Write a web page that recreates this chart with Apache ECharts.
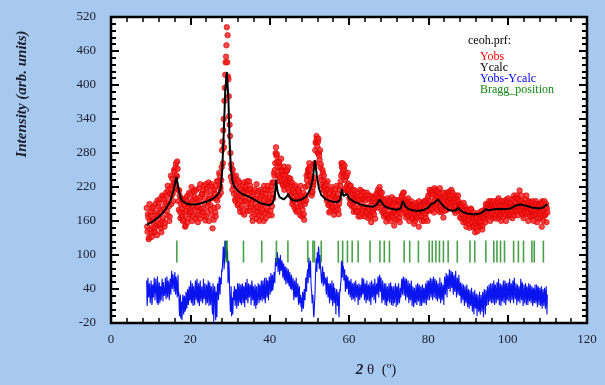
<!DOCTYPE html>
<html>
<head>
<meta charset="utf-8">
<script src="https://cdn.jsdelivr.net/npm/echarts@6/dist/echarts.min.js"></script>
<style>
html,body{margin:0;padding:0;background:#a7c8ef;}
#chart{width:605px;height:385px;}
</style>
</head>
<body>
<div id="chart"></div>
<script>
// ---- data ----
// observed points every 0.1 deg from 9.0; "even" = 9.0, 9.2, ... ; "odd" = 9.1, 9.3, ...
const obsStart = 9.0;
const obsStep = 0.1;
const yObsEven = [
183,141,166,131,160, 170,139,182,150,163, 148,190,171,135,158, 185,152,199,147,176,
160,203,181,156,192, 205,170,214,186,168, 218,190,235,209,228, 247,218,262,240,252,
195,214,176,190,168, 170,198,162,187,152, 178,204,165,190,171, 207,176,195,168,214,
212,180,199,171,193, 186,218,164,203,177, 207,175,222,190,161, 168,211,186,228,199,
205,180,220,147,213, 183,208,168,222,196, 230,205,240,218,232, 285,262,340,372,418,
450,502,488,410,345, 310,238,252,215,241, 208,236,195,225,201, 232,190,218,176,205,
186,224,199,171,212, 220,183,209,192,230, 178,216,190,168,205, 211,172,199,183,164,
185,213,160,201,176, 205,168,190,222,174, 165,200,182,214,191, 203,178,221,186,207,
228,240,262,290,278, 255,240,265,236,248, 230,248,222,256,235, 240,226,250,218,236,
212,235,207,228,196, 210,185,223,198,176, 204,178,212,190,222, 186,168,201,172,195,
220,196,232,245,252, 262,250,228,205,212, 225,236,262,298,310, 292,300,280,268,255,
238,224,245,215,230, 221,205,196,230,188, 175,210,192,220,183, 205,171,198,216,180,
186,208,172,198,222, 240,255,262,248,250, 232,218,240,212,226, 215,190,222,204,185,
208,176,214,195,200, 176,204,168,198,215, 205,180,199,172,210, 168,196,176,205,184,
199,170,187,158,203, 176,200,182,164,193, 205,184,210,195,213, 208,179,200,186,168,
173,196,159,188,170, 195,165,190,171,202, 168,188,152,176,193, 185,162,197,174,158,
196,173,203,188,210, 180,198,166,192,175, 194,160,183,172,188, 165,187,155,180,170,
192,168,179,150,185, 170,188,160,176,193, 175,196,165,183,160, 205,178,210,188,214,
180,206,175,196,215, 190,213,180,203,176, 208,185,176,198,166, 195,178,203,188,206,
210,190,201,185,215, 193,205,180,200,174, 186,200,178,195,183, 166,190,172,185,158,
181,162,170,150,178, 160,175,148,168,180, 158,172,150,165,140, 155,167,142,160,175,
162,150,171,145,168, 165,180,158,185,172, 190,170,185,160,195, 173,192,165,186,170,
188,164,196,175,182, 170,193,160,185,176, 195,172,186,160,190, 178,200,168,185,172,
190,165,186,205,176, 195,178,200,170,192, 214,180,196,172,188, 165,190,176,198,172,
184,160,193,170,180, 192,168,186,160,178, 170,190,158,181,176, 187,165,180,150,192,
160,178,170,185,158, 175
];
const yObsOdd = [
150,172,128,190,145, 176,132,160,185,141, 140,175,152,196,168, 192,155,180,140,205,
165,198,150,188,210, 178,222,195,160,208, 240,205,222,195,250, 226,255,238,265,215,
180,205,165,200,182, 160,190,175,150,200, 195,158,185,210,176, 180,220,160,198,185,
203,165,215,184,158, 170,196,225,180,208, 182,215,168,200,225, 215,176,195,160,222,
188,225,170,200,162, 215,175,200,230,185, 205,245,222,210,255, 300,320,290,395,440,
470,440,415,380,330, 280,260,230,250,222, 230,198,240,210,188, 205,228,182,215,196,
210,175,228,195,218, 195,230,178,215,200, 222,185,210,160,198, 180,215,192,225,175,
205,170,195,215,185, 180,210,160,198,215, 208,178,222,195,170, 192,215,170,228,200,
245,250,280,275,265, 240,262,230,255,270, 250,225,240,215,245, 222,248,232,255,225,
230,205,222,190,215, 195,220,180,210,200, 185,215,195,170,205, 200,180,210,162,190,
205,240,222,250,240, 255,240,230,210,220, 230,260,285,300,305, 280,305,275,285,260,
232,250,220,240,215, 210,225,200,215,190, 200,178,215,190,205, 185,210,178,200,222,
200,180,190,215,230, 262,245,255,238,258, 215,238,222,245,210, 200,222,195,212,188,
215,185,205,178,200, 195,178,210,185,168, 190,212,178,200,185, 200,175,210,182,165,
180,205,168,195,175, 195,172,200,185,208, 188,215,200,220,192, 192,210,175,198,180,
190,170,185,200,165, 178,198,160,185,172, 190,175,198,162,180, 172,195,180,165,190,
185,205,192,210,180, 195,175,188,170,200, 170,190,178,195,165, 185,172,190,160,182,
165,185,172,195,170, 185,168,192,178,160, 190,172,195,178,200, 190,215,195,180,208,
210,190,218,185,200, 205,185,210,195,218, 185,200,180,210,190, 200,185,210,180,195,
195,212,205,190,200, 210,185,195,178,205, 195,178,205,188,190, 180,165,188,170,192,
165,185,158,180,170, 175,155,170,182,160, 165,150,175,160,170, 148,165,158,172,152,
170,158,178,152,165, 175,162,190,170,182, 175,195,180,168,188, 190,178,195,168,182,
170,192,178,200,165, 188,172,195,180,168, 175,190,170,198,182, 195,180,170,192,185,
178,198,185,170,200, 185,205,178,198,182, 195,178,205,185,170, 192,178,185,205,180,
175,195,182,168,190, 180,195,170,188,175, 195,172,185,165,190, 172,190,178,195,168,
180,195,172,190,182
];
const yDiffEven = [
55,20,42,28,48, 30,45,18,40,27, 44,22,38,15,41, 26,48,33,20,45,
35,52,28,44,30, 48,33,55,38,46, 42,60,48,66,52, 58,45,62,40,52,
28,5,22,-12,18, 10,24,2,20,8, 30,15,35,20,28, 40,22,35,18,45,
28,44,30,50,25, 38,20,42,26,35, 45,28,40,22,48, 25,42,30,46,20,
38,15,30,-5,35, 22,40,-15,30,45, 35,50,42,60,48, 70,95,110,85,120,
125,90,105,60,75, 40,10,-8,25,15, 20,38,12,35,25, 42,22,35,15,40,
28,44,20,38,26, 45,30,55,28,40, 22,40,30,48,25, 35,18,40,25,12,
28,45,22,38,30, 45,30,52,36,25, 35,55,42,30,48, 52,40,60,45,38,
55,62,78,95,88, 100,82,90,75,85, 70,85,65,78,60, 70,55,68,50,62,
60,45,58,38,52, 35,48,30,45,25, 40,22,38,15,30, 25,10,30,15,35,
40,55,62,75,80, 82,70,55,35,20, 8,-5,25,75,95, 105,90,110,88,80,
70,58,75,55,62, 50,38,55,42,35, 30,45,28,40,22, 38,25,42,20,35,
28,15,0,22,35, 55,75,88,80,65, 55,42,60,48,52, 38,50,35,45,30,
42,28,45,35,40, 25,40,30,45,22, 48,35,55,38,42, 30,45,25,40,20,
42,28,50,32,38, 25,40,30,45,35, 50,38,55,42,60, 45,30,42,25,35,
28,40,22,35,18, 35,22,40,30,45, 25,38,15,30,40, 32,20,38,28,22,
35,48,42,55,50, 45,38,52,35,40, 30,42,25,38,32, 25,35,18,30,22,
38,25,40,28,35, 22,35,28,40,25, 35,28,42,30,38, 45,35,50,38,42,
35,48,38,52,40, 42,30,45,35,28, 40,28,38,22,35, 40,52,45,58,48,
62,50,58,48,65, 55,45,60,42,52, 48,38,55,42,45, 38,28,42,30,35,
25,35,20,32,28, 30,20,28,15,25, 18,25,10,22,15, 20,8,22,12,5,
15,-2,20,10,25, 18,28,-5,25,30, 35,22,40,28,32, 28,40,25,45,30,
38,25,48,30,35, 30,42,22,38,28, 40,30,48,25,35, 32,45,28,40,35,
45,30,38,50,32, 28,40,25,38,30, 42,30,48,35,28, 25,38,30,42,22,
35,28,40,25,32, 28,38,20,35,25, 32,22,40,28,35, 25,35,18,30,22,
30,20,35,15,28, 30
];
const yDiffOdd = [
10,60,25,50,15, 55,12,48,25,60, 20,58,30,62,12, 52,15,45,28,58,
18,55,32,60,22, 62,25,50,20,58, 30,72,40,68,35, 70,30,55,25,65,
35,-8,30,5,-15, 30,-5,28,0,35, 5,40,12,45,20, 55,15,50,10,48,
12,55,20,58,15, 50,10,55,18,45, 15,58,22,50,12, 48,15,55,10,52,
12,45,5,50,-20, 45,5,35,-10,50, 20,62,30,55,75, 80,115,75,125,95,
95,110,50,90,40, 0,45,20,-5,35, 45,10,40,5,50, 10,50,20,48,12,
50,15,45,8,52, 20,58,15,50,25, 48,12,55,20,45, 10,48,5,45,20,
50,15,48,20,55, 18,55,22,60,15, 60,25,55,20,62, 30,68,35,65,40,
70,50,95,80,105, 70,95,65,100,72, 90,60,85,55,80, 48,78,55,75,45,
70,40,65,35,60, 20,55,25,60,30, 50,12,45,20,8, 0,35,5,40,20,
60,35,70,50,95, 60,90,40,15,30, -10,15,50,90,70, 85,115,75,100,70,
50,80,45,70,48, 60,30,62,25,50, 15,50,20,55,10, 50,15,45,-5,40,
10,35,-10,40,50, 90,60,70,55,75, 35,65,40,62,30, 55,25,58,20,50,
22,52,18,55,25, 48,12,50,20,40, 25,60,30,58,20, 50,15,55,20,48,
18,52,12,55,25, 50,20,58,15,45, 30,62,25,65,35, 60,15,55,20,50,
12,50,10,45,25, 50,15,52,12,40, 10,45,20,50,8, 45,12,50,15,42,
25,58,30,62,28, 60,20,58,25,55, 15,50,20,55,10, 45,8,42,15,48,
12,50,18,48,10, 45,10,48,15,42, 15,50,12,55,20, 55,20,60,25,58,
20,62,25,58,22, 55,18,50,22,60, 15,52,20,48,12, 62,30,68,25,65,
40,75,35,72,42, 70,30,65,35,72, 25,60,30,65,28, 52,15,50,20,48,
10,45,15,48,8, 40,5,38,10,42, 0,35,-5,38,5, 32,-8,30,0,35,
-5,30,0,35,-10, 40,5,38,10,45, 12,48,18,50,15, 50,15,55,12,48,
15,52,20,58,12, 50,10,48,18,55, 15,55,12,50,20, 52,18,58,15,50,
20,55,15,60,22, 50,12,48,18,45, 15,58,20,52,10, 48,15,50,12,45,
12,50,18,48,15, 45,10,42,15,48, 15,48,8,45,12, 42,10,45,5,40,
10,42,5,45,-5
];
const calcTheta = [9,10,11,12,13,14,15,15.8,16.5,17,17.5,18,19,20,21,22,23,24,25,26,27,
27.6,28,28.4,28.8,29.2,29.6,29.9,30.2,30.6,31,32,33,34,35,36,37,38,39,40,
40.8,41.3,41.6,42,42.5,43.5,44.3,44.7,45.2,46,47,48,49,49.8,50.4,50.9,51.4,51.9,52.4,
53,54,55,56,57,57.8,58.2,58.6,59,59.5,60,61,62,63,64,65,66,67,67.7,68.3,69,70,71,72,73,
73.6,74.2,75,76,77,78,79,80,80.8,81.5,82.4,83.2,84,85,86,87,87.5,88,89,90,91,92,93,94,
94.4,95,96,97,98,99,100,101,102,103,104,105,106,107,108,109,109.5,110];
const calcValue = [153,157,162,167,174,183,196,215,238,218,202,195,191,189,189,190,192,194,197,201,207,
216,245,310,390,423,375,300,255,232,222,213,208,205,202,198,194,191,189,188,
192,205,233,212,202,198,203,208,200,196,196,198,202,210,220,235,267,240,218,
206,199,196,194,193,198,216,204,202,208,200,195,192,189,187,186,185,189,198,192,186,183,181,180,182,
195,186,181,179,178,178,180,184,190,192,198,191,185,180,178,179,183,179,175,173,172,172,173,177,
181,179,180,181,181,181,181,183,187,189,188,186,184,183,182,184,187,190];
const braggTheta = [16.6,29.0,29.3,33.4,38.0,41.7,44.6,49.6,50.9,51.3,53.0,57.3,58.4,59.6,60.8,62.3,
65.3,67.8,68.9,70.2,73.9,75.3,77.5,80.2,81.0,81.9,82.8,83.8,85.0,87.3,90.5,91.7,94.5,
96.5,97.3,98.2,99.2,101.5,102.7,104.0,106.1,106.7,109.0];
const braggLevel = 106;
const xTickValues = [0,20,40,60,80,100,120];
const yTickValues = [-20,40,100,160,220,280,340,400,460,520];
const yMinorValues = [];
for (let v = -20; v <= 520; v += 12) if (!yTickValues.includes(v)) yMinorValues.push(v);

// ---- build series data (interleave even / odd points) ----
const obsData = [], diffData = [];
for (let i = 0; i < yObsEven.length; i++) {
  const t0 = +(obsStart + 2 * i * obsStep).toFixed(2);
  obsData.push([t0, yObsEven[i]]);
  diffData.push([t0, yDiffEven[i]]);
  if (i < yObsOdd.length) {
    const t1 = +(obsStart + (2 * i + 1) * obsStep).toFixed(2);
    obsData.push([t1, yObsOdd[i]]);
    diffData.push([t1, yDiffOdd[i]]);
  }
}
const calcData = calcTheta.map((t, i) => [t, calcValue[i]]);
const braggData = braggTheta.map(t => [t, braggLevel]);

const serif = 'Liberation Serif';
const lblColor = '#1c1c2c';

function yAx(pos, vals, len, labels) {
  return {
    type: 'value', position: pos, min: -20, max: 520,
    axisLine: {show: false, onZero: false}, splitLine: {show: false},
    axisTick: {show: true, inside: true, length: len, customValues: vals, lineStyle: {color: '#000', width: 2}},
    axisLabel: labels ? {show: true, customValues: yTickValues, margin: 15, color: lblColor, fontFamily: serif, fontSize: 13}
                      : {show: false, customValues: vals}
  };
}
function xAx(pos, labels) {
  return {
    type: 'value', position: pos, min: 0, max: 120, interval: 20,
    axisLine: {show: false, onZero: false}, splitLine: {show: false},
    axisTick: {show: true, inside: true, length: 8, lineStyle: {color: '#000', width: 2}},
    minorTick: {show: true, splitNumber: 5, length: 5, lineStyle: {color: '#000', width: 1.5}},
    axisLabel: labels ? {show: true, margin: 10, color: lblColor, fontFamily: serif, fontSize: 13} : {show: false}
  };
}

const chart = echarts.init(document.getElementById('chart'), null, {renderer: 'canvas'});
chart.setOption({
  animation: false,
  backgroundColor: '#a7c8ef',
  grid: {left: 111, right: 18, top: 17, bottom: 62, show: true, backgroundColor: '#fff', borderColor: '#000', borderWidth: 2.5},
  xAxis: [xAx('bottom', true), xAx('top', false)],
  yAxis: [yAx('left', yTickValues, 8, true), yAx('left', yMinorValues, 5, false),
          yAx('right', yTickValues, 8, false), yAx('right', yMinorValues, 5, false)],
  series: [
    {type: 'line', data: diffData, xAxisIndex: 0, yAxisIndex: 0, showSymbol: false, symbol: 'none',
     lineStyle: {color: '#0a14f0', width: 1.1}, z: 2},
    {type: 'scatter', data: obsData, xAxisIndex: 0, yAxisIndex: 0, symbol: 'circle', symbolSize: 5.5,
     itemStyle: {color: '#ff1a1a', borderColor: '#cc0000', borderWidth: 0.8}, z: 3},
    {type: 'line', data: calcData, xAxisIndex: 0, yAxisIndex: 0, showSymbol: false, symbol: 'none',
     lineStyle: {color: '#000', width: 2}, z: 4},
    {type: 'scatter', data: braggData, xAxisIndex: 0, yAxisIndex: 0, symbol: 'rect', symbolSize: [1.6, 22],
     itemStyle: {color: '#1a8a1a'}, z: 3}
  ],
  graphic: [
    {type: 'text', left: 468, top: 35, style: {text: 'ceoh.prf:', fill: '#000', font: '12px "Liberation Serif"'}},
    {type: 'text', left: 480, top: 51, style: {text: 'Yobs', fill: '#ff0000', font: '12px "Liberation Serif"'}},
    {type: 'text', left: 480, top: 62, style: {text: 'Ycalc', fill: '#000', font: '12px "Liberation Serif"'}},
    {type: 'text', left: 480, top: 73, style: {text: 'Yobs-Ycalc', fill: '#0000ff', font: '12px "Liberation Serif"'}},
    {type: 'text', left: 480, top: 84, style: {text: 'Bragg_position', fill: '#118811', font: '12px "Liberation Serif"'}},
    {type: 'text', x: 22, y: 94, rotation: Math.PI / 2,
     style: {text: 'Intensity (arb. units)', fill: '#1c1c2c', font: 'italic bold 15px "Liberation Serif"', textAlign: 'center', textVerticalAlign: 'middle'}},
    {type: 'text', x: 376, y: 370,
     style: {text: '{b|2} θ  (º)', fill: '#1c1c2c', font: '15px "Liberation Serif"', textAlign: 'center', textVerticalAlign: 'middle',
             rich: {b: {fontStyle: 'italic', fontWeight: 'bold', fontSize: 15, fontFamily: serif, fill: '#1c1c2c'}}}}
  ]
});
</script>
</body>
</html>
